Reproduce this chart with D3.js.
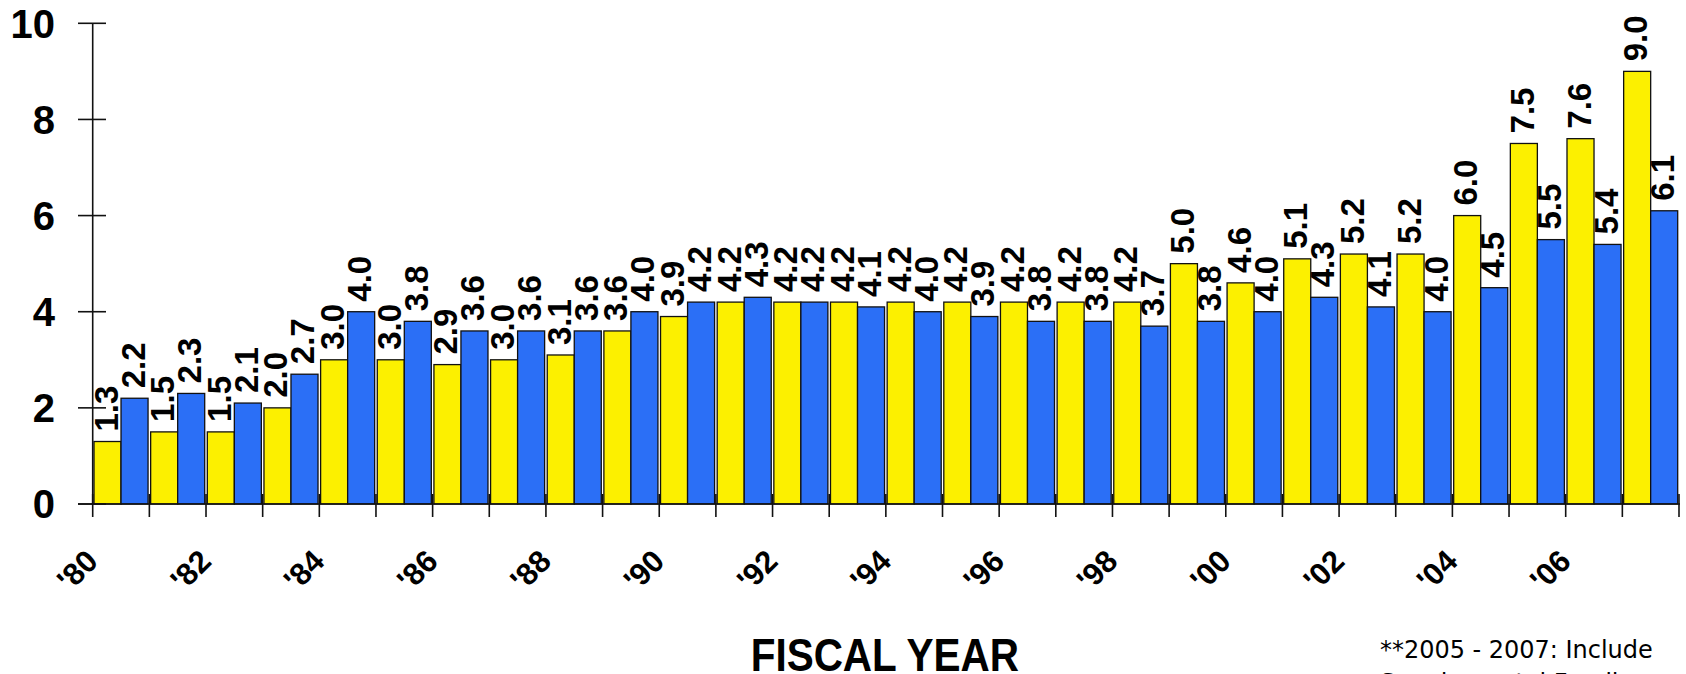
<!DOCTYPE html>
<html>
<head>
<meta charset="utf-8">
<script src="https://cdn.jsdelivr.net/npm/d3@7"></script>
<style>
html,body{margin:0;padding:0;background:#fff;}
svg{display:block;}
</style>
</head>
<body>
<svg id="chart" width="1686" height="674"></svg>
<script>
const years = ["'80","'81","'82","'83","'84","'85","'86","'87","'88","'89","'90","'91","'92","'93","'94","'95","'96","'97","'98","'99","'00","'01","'02","'03","'04","'05","'06","'07"];
const yellowValues = [1.3,1.5,1.5,2.0,3.0,3.0,2.9,3.0,3.1,3.6,3.9,4.2,4.2,4.2,4.2,4.2,4.2,4.2,4.2,5.0,4.6,5.1,5.2,5.2,6.0,7.5,7.6,9.0];
const blueValues = [2.2,2.3,2.1,2.7,4.0,3.8,3.6,3.6,3.6,4.0,4.2,4.3,4.2,4.1,4.0,3.9,3.8,3.8,3.7,3.8,4.0,4.3,4.1,4.0,4.5,5.5,5.4,6.1];
const yTicks = [0,2,4,6,8,10];
const xTickLabels = ["'80","'82","'84","'86","'88","'90","'92","'94","'96","'98","'00","'02","'04","'06"];
const seriesNames = ["yellow","blue"];
const seriesColors = ["#FCF000","#2B6FF6"];
const axisTitle = "FISCAL YEAR";
const footnoteLines = ["**2005 - 2007: Include","Supplemental Funding"];

const svg = d3.select("#chart");
const plotLeft = 92.7, plotRight = 1679, plotTop = 23.3, plotBottom = 504;

const x = d3.scaleBand().domain(years).range([plotLeft, plotRight]).paddingInner(0.046).paddingOuter(0.023);
const xs = d3.scaleBand().domain(seriesNames).range([0, x.bandwidth()]).padding(0);
const y = d3.scaleLinear().domain([0, 10]).range([plotBottom, plotTop]);
const step = (plotRight - plotLeft) / years.length;
const boundary = i => plotLeft + i * step;

const data = years.map((yr, i) => ({year: yr, values: [yellowValues[i], blueValues[i]]}));

// bars
const groups = svg.append("g").selectAll("g").data(data).join("g")
  .attr("transform", d => `translate(${x(d.year)},0)`);
groups.selectAll("rect").data(d => d.values.map((v, j) => ({v, s: seriesNames[j], c: seriesColors[j]})))
  .join("rect")
  .attr("x", d => xs(d.s))
  .attr("y", d => y(d.v))
  .attr("width", xs.bandwidth())
  .attr("height", d => y(0) - y(d.v))
  .attr("fill", d => d.c)
  .attr("stroke", "#111")
  .attr("stroke-width", 1.3);

// value labels
groups.selectAll("text").data(d => d.values.map((v, j) => ({v, s: seriesNames[j]})))
  .join("text")
  .attr("transform", d => `translate(${xs(d.s) + xs.bandwidth() / 2 + 10},${y(d.v) - 10}) rotate(-90)`)
  .attr("text-anchor", "start")
  .attr("font-family", "'Liberation Sans', Arial, sans-serif")
  .attr("font-weight", "bold")
  .attr("font-size", 33)
  .attr("fill", "#000")
  .text(d => d.v.toFixed(1));

// axes lines
const axisG = svg.append("g").attr("stroke", "#111").attr("stroke-width", 1.6);
axisG.append("line").attr("x1", plotLeft).attr("x2", plotLeft).attr("y1", y(10)).attr("y2", y(0));
axisG.append("line").attr("x1", 78).attr("x2", plotRight + 1).attr("y1", y(0)).attr("y2", y(0));
// y ticks
axisG.selectAll(".yt").data(yTicks).join("line")
  .attr("x1", 78).attr("x2", 106).attr("y1", d => y(d)).attr("y2", d => y(d));
// x ticks at group boundaries
axisG.selectAll(".xt").data(d3.range(years.length + 1)).join("line")
  .attr("x1", i => boundary(i)).attr("x2", i => boundary(i))
  .attr("y1", plotBottom - 10).attr("y2", plotBottom + 13);

// y tick labels
svg.append("g").selectAll("text").data(yTicks).join("text")
  .attr("x", 55).attr("y", d => y(d)).attr("dy", "0.36em")
  .attr("text-anchor", "end")
  .attr("font-family", "'Liberation Sans', Arial, sans-serif")
  .attr("font-weight", "bold").attr("font-size", 40)
  .text(d => d);

// x tick labels (rotated 45 degrees)
svg.append("g").selectAll("text").data(xTickLabels).join("text")
  .attr("x", 0).attr("y", 0)
  .attr("transform", d => "translate(" + (boundary(years.indexOf(d)) + 7) + ",563) rotate(-45)")
  .attr("text-anchor", "end")
  .attr("font-family", "'Liberation Sans', Arial, sans-serif")
  .attr("font-weight", "bold").attr("font-size", 31)
  .text(d => d);

// axis title
svg.append("g").attr("transform", `translate(${(plotLeft + plotRight) / 2 - 1},671) scale(0.88,1)`)
  .append("text")
  .attr("x", 0).attr("y", 0)
  .attr("text-anchor", "middle")
  .attr("font-family", "'Liberation Sans', Arial, sans-serif")
  .attr("font-weight", "bold").attr("font-size", 46)
  .text(axisTitle);

// footnote
svg.append("g").attr("transform", "translate(1380,0) scale(0.94,1)")
  .selectAll("text").data(footnoteLines).join("text")
  .attr("x", 0).attr("y", (d, i) => 658 + i * 33)
  .attr("font-family", "'DejaVu Sans', sans-serif")
  .attr("font-size", 25.5)
  .text(d => d);
</script>
</body>
</html>
